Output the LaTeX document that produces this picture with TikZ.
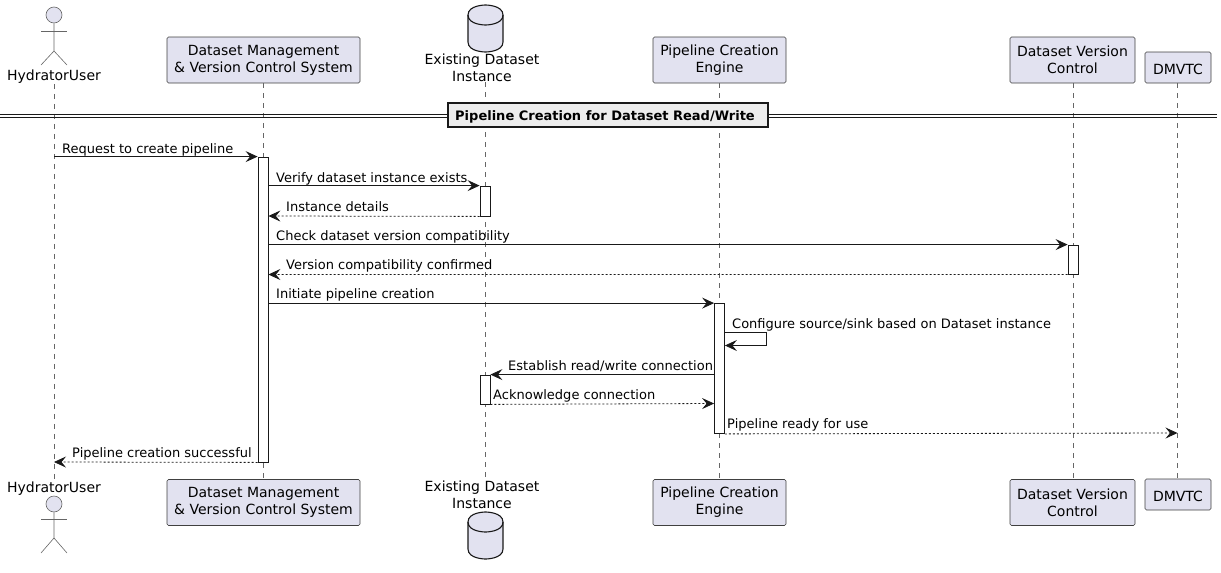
\documentclass[tikz,border=0pt]{standalone}
\usepackage{fontspec}
\setmainfont{DejaVu Sans}
\usetikzlibrary{arrows.meta}

\begin{document}
\begin{tikzpicture}[
x=1pt, y=-1pt,
>={Stealth[length=12pt, width=11pt, inset=4.5pt]},
part/.style={rectangle, draw=black!75, fill=partfill, line width=0.6pt, rounded corners=1.5pt, inner sep=0pt, minimum height=46pt, align=center, font=\fontsize{14}{17}\selectfont, execute at begin node={\rule{0pt}{14.6pt}}},
plain/.style={inner sep=0pt, align=center, font=\fontsize{14}{17}\selectfont},
head/.style={circle, draw=black!60, fill=partfill, line width=0.6pt, minimum size=16pt, inner sep=0pt},
limb/.style={draw=black!60, line width=0.6pt},
dbase/.pic={
	\draw[draw=black!90, fill=partfill, line width=1.1pt] (-17.5,10) .. controls (-17.5,0) and (0,0) .. (0,0) .. controls (0,0) and (17.5,0) .. (17.5,10) -- (17.5,37) .. controls (17.5,47) and (0,47) .. (0,47) .. controls (0,47) and (-17.5,47) .. (-17.5,37) -- cycle;
	\draw[draw=black!90, line width=1.1pt] (-17.5,10) .. controls (-17.5,20) and (0,20) .. (0,20) .. controls (0,20) and (17.5,20) .. (17.5,10);
},
bar/.style={rectangle, draw=black!90, fill=white, line width=0.8pt, minimum width=10pt, inner sep=0pt},
lifeline/.style={draw=black!60, line width=0.6pt, dash pattern=on 5pt off 5pt},
msg/.style={draw=black!90, line width=0.8pt, ->},
reply/.style={draw=black!90, line width=0.8pt, ->, dash pattern=on 2pt off 2pt},
txt/.style={anchor=base west, inner sep=0pt, font=\fontsize{13}{15}\selectfont},
divider/.style={draw=black!90, line width=1.1pt}
]
\definecolor{partfill}{HTML}{E2E2F0}
\useasboundingbox (0,0) rectangle (1221,573);

%Lifeline positions
\coordinate (user_x) at (54,0);
\coordinate (dms_x) at (263,0);
\coordinate (ds_x) at (485,0);
\coordinate (pce_x) at (719.5,0);
\coordinate (dvc_x) at (1073,0);
\coordinate (dmvtc_x) at (1177.5,0);

%Nodes
\node[head]	(user_head)		at (54,15)		{};
\node[plain]	(user_top)		at (54,77)		{HydratorUser};
\node[part, minimum width=193pt]	(dms_top)	at (263.5,60)	{Dataset Management\\ \& Version Control System};
\pic at (485.5,5) {dbase};
\node[plain]	(ds_top)		at (482,68)		{Existing Dataset\\ Instance};
\node[part, minimum width=133pt]	(pce_top)	at (719.5,60)	{Pipeline Creation\\ Engine};
\node[part, minimum width=125pt]	(dvc_top)	at (1072.5,60)	{Dataset Version\\ Control};
\node[part, minimum width=66pt, minimum height=31pt]	(dmvtc_top)	at (1178,67.5)	{DMVTC};

\node[plain]	(user_bot)		at (54,489)		{HydratorUser};
\node[head]	(user_foot)		at (54,504)		{};
\node[part, minimum width=193pt]	(dms_bot)	at (263.5,502.5)	{Dataset Management\\ \& Version Control System};
\node[plain]	(ds_bot)		at (482,495)	{Existing Dataset\\ Instance};
\pic at (485.5,512) {dbase};
\node[part, minimum width=133pt]	(pce_bot)	at (719.5,502.5)	{Pipeline Creation\\ Engine};
\node[part, minimum width=125pt]	(dvc_bot)	at (1072.5,502.5)	{Dataset Version\\ Control};
\node[part, minimum width=66pt, minimum height=31pt]	(dmvtc_bot)	at (1178,494.5)	{DMVTC};

%Actors
\draw[limb] (user_head.south) -- (54,51) -- (41,65);
\draw[limb] (54,51) -- (67,65);
\draw[limb] (41,31) -- (67,31);
\draw[limb] (user_foot.south) -- (54,538) -- (41,553);
\draw[limb] (54,538) -- (67,553);
\draw[limb] (41,519) -- (67,519);

%Lifelines
\draw[lifeline] (user_top.south -| user_x)	--	(user_bot.north -| user_x);
\draw[lifeline] (dms_top.south -| dms_x)	--	(dms_bot.north -| dms_x);
\draw[lifeline] (ds_top.south -| ds_x)		--	(ds_bot.north -| ds_x);
\draw[lifeline] (pce_top.south -| pce_x)	--	(pce_bot.north -| pce_x);
\draw[lifeline] (dvc_top.south -| dvc_x)	--	(dvc_bot.north -| dvc_x);
\draw[lifeline] (dmvtc_top.south -| dmvtc_x)	--	(dmvtc_bot.north -| dmvtc_x);

%Divider
\draw[divider] (0,114.5) -- (1217,114.5);
\draw[divider] (0,117.5) -- (1217,117.5);
\node[rectangle, draw=black!90, fill=black!7, line width=2pt, minimum width=320pt, minimum height=24pt, inner sep=0pt, text height=10pt, text depth=0pt, font=\fontsize{13}{15}\selectfont\bfseries] (title) at (608,115) {Pipeline Creation for Dataset Read/Write\hspace{6pt}\null};

%Activations
\node[bar, minimum height=305pt]	(dms_bar)	at (263,309.5)		{};
\node[bar, minimum height=30pt]		(ds_bar_a)	at (485,201)		{};
\node[bar, minimum height=29pt]		(dvc_bar)	at (1073,259.5)		{};
\node[bar, minimum height=130pt]	(pce_bar)	at (719.5,368.5)	{};
\node[bar, minimum height=29pt]		(ds_bar_b)	at (485,389.5)		{};

%Levels
\coordinate (y_ds_back) at (0,216);
\coordinate (y_dvc_back) at (0,274.5);
\coordinate (y_self_a) at (0,332.5);
\coordinate (y_self_b) at (0,345.5);
\coordinate (y_self_r) at (766.5,0);
\coordinate (y_ack) at (0,403.5);
\coordinate (y_ready) at (0,433);
\coordinate (y_done) at (0,462);

%Lines
\draw[msg] (user_x |- dms_bar.north)		--	(dms_bar.north west);
\draw[msg] (dms_bar.east |- ds_bar_a.north)	--	(ds_bar_a.north west);
\draw[reply] (ds_bar_a.south west)		--	(dms_bar.east |- y_ds_back);
\draw[msg] (dms_bar.east |- dvc_bar.north)	--	(dvc_bar.north west);
\draw[reply] (dvc_bar.south west)		--	(dms_bar.east |- y_dvc_back);
\draw[msg] (dms_bar.east |- pce_bar.north)	--	(pce_bar.north west);
\draw[msg] (pce_bar.east |- y_self_a)		--	(y_self_r |- y_self_a)	--	(y_self_r |- y_self_b)	--	(pce_bar.east |- y_self_b);
\draw[msg] (pce_bar.west |- ds_bar_b.north)	--	(ds_bar_b.north east);
\draw[reply] (ds_bar_b.south east)		--	(pce_bar.west |- y_ack);
\draw[reply] (pce_bar.south east)		--	(dmvtc_x |- y_ready);
\draw[reply] (dms_bar.south west)		--	(user_x |- y_done);

%Labels
\node[txt] (lbl_request)	at (62,153)	{Request to create pipeline};
\node[txt] (lbl_verify)		at (276,182)	{Verify dataset instance exists};
\node[txt] (lbl_details)	at (286,211)	{Instance details};
\node[txt] (lbl_check)		at (276,240)	{Check dataset version compatibility};
\node[txt] (lbl_confirmed)	at (286,269.5)	{Version compatibility confirmed};
\node[txt] (lbl_initiate)	at (276,298.5)	{Initiate pipeline creation};
\node[txt] (lbl_configure)	at (732,328)	{Configure source/sink based on Dataset instance};
\node[txt] (lbl_establish)	at (508,370.5)	{Establish read/write connection};
\node[txt] (lbl_ack)		at (493,399)	{Acknowledge connection};
\node[txt] (lbl_ready)		at (727,428.5)	{Pipeline ready for use};
\node[txt] (lbl_done)		at (72,457.5)	{Pipeline creation successful};
\end{tikzpicture}
\end{document}
